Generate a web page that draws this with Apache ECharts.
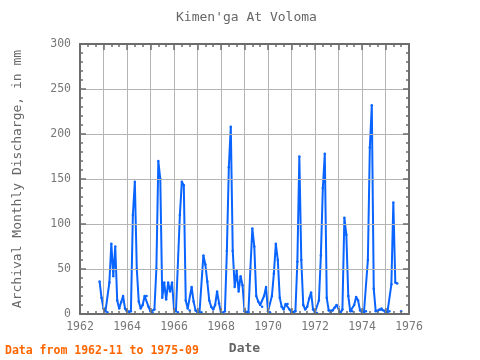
<!DOCTYPE html>
<html>
<head>
<meta charset="utf-8">
<script src="https://cdn.jsdelivr.net/npm/echarts@6/dist/echarts.min.js"></script>
<style>html,body{margin:0;padding:0;background:#fff}#c{width:480px;height:360px}</style>
</head>
<body>
<div id="c"></div>
<script>
// Monthly discharge (mm), Kimen'ga At Voloma, 1962-11 .. 1975-09
const firstYear = 1962, firstMonth = 11;
const v1962 = [36, 18];
const v1963 = [6, 3, 2, 35, 78, 42, 75, 15, 6, 13, 20, 6];
const v1964 = [3, 2, 3, 110, 147, 50, 14, 6, 10, 20, 20, 8];
const v1965 = [3, 2, 5, 50, 170, 150, 18, 35, 16, 35, 25, 35];
const v1966 = [6, 3, 2, 110, 147, 143, 15, 6, 4, 30, 14, 4];
const v1967 = [2, 1, 2, 65, 55, 36, 15, 8, 5, 10, 25, 12];
const v1968 = [1, 1, 3, 70, 163, 208, 70, 30, 48, 25, 42, 32];
const v1969 = [3, 2, 2, 50, 95, 75, 20, 14, 10, 8, 20, 30];
const v1970 = [3, 2, 20, 45, 78, 60, 18, 8, 5, 11, 11, 5];
const v1971 = [2, 2, 3, 58, 175, 60, 10, 5, 8, 17, 24, 5];
const v1972 = [2, 1, 15, 65, 140, 178, 18, 4, 2, 4, 7, 10];
const v1973 = [8, 1, 5, 107, 88, 20, 3, 3, 10, 19, 15, 4];
const v1974 = [2, 2, 3, 60, 185, 232, 28, 3, 3, 5, 6, 4];
const v1975 = [2, 2, 3, 33, 124, 35, 34, null, 3];
const xTicks = [1962, 1964, 1966, 1968, 1970, 1972, 1974, 1976];
const yTicks = [0, 50, 100, 150, 200, 250, 300];

const values = [].concat(v1962, v1963, v1964, v1965, v1966, v1967, v1968,
  v1969, v1970, v1971, v1972, v1973, v1974, v1975);
const data = values.map((v, i) => {
  const m = firstMonth - 1 + i;
  const yr = firstYear + Math.floor(m / 12);
  const mo = m % 12;
  return [yr + mo / 12, v];
});

const FONT = 'DejaVu Sans Mono';
const AX = '#6c6c6c';
const frame = () => ({ show: true, onZero: false, lineStyle: { color: AX, width: 2 } });
const tick = () => ({ show: true, inside: true, length: 6, lineStyle: { color: AX, width: 1.5 } });
const minor = (n) => ({ show: true, splitNumber: n, length: 3, lineStyle: { color: AX, width: 1.5 } });

const chart = echarts.init(document.getElementById('c'), null, { renderer: 'canvas' });
chart.setOption({
  animation: false,
  backgroundColor: '#fff',
  grid: { left: 80, right: 71, top: 44, bottom: 40 },
  graphic: [
    { type: 'text', left: 248 - 72, top: 11, z: 100,
      style: { text: "Kimen'ga At Voloma", font: '13px "DejaVu Sans Mono"', fill: '#666' } },
    { type: 'text', left: 5, top: 345, z: 100,
      style: { text: 'Data from 1962-11 to 1975-09', font: 'bold 11.5px "DejaVu Sans Mono"', fill: '#ff6600' } }
  ],
  xAxis: [
    { type: 'value', min: 1962, max: 1976, interval: 1, position: 'bottom', z: 10,
      axisLine: frame(), axisTick: tick(), minorTick: minor(3),
      axisLabel: { color: '#777', fontFamily: FONT, fontSize: 11.5, margin: 7,
        formatter: (v) => xTicks.indexOf(v) >= 0 ? String(v) : '' },
      splitLine: { show: true, lineStyle: { color: '#b4b4b4', width: 1 } },
      name: 'Date', nameLocation: 'middle', nameGap: 28,
      nameTextStyle: { color: '#666', fontFamily: FONT, fontSize: 13, fontWeight: 'bold' } },
    { type: 'value', min: 1962, max: 1976, interval: 1, position: 'top', z: 10,
      axisLine: frame(), axisTick: tick(), minorTick: minor(3),
      axisLabel: { show: false }, splitLine: { show: false } }
  ],
  yAxis: [
    { type: 'value', min: 0, max: 300, interval: 50, position: 'left', z: 10,
      axisLine: frame(), axisTick: tick(), minorTick: minor(5),
      axisLabel: { color: '#777', fontFamily: FONT, fontSize: 11.5, margin: 9,
        formatter: (v) => yTicks.indexOf(v) >= 0 ? String(v) : '' },
      splitLine: { show: true, lineStyle: { color: '#b4b4b4', width: 1 } },
      name: 'Archival Monthly Discharge, in mm', nameLocation: 'middle', nameGap: 56,
      nameTextStyle: { color: '#666', fontFamily: FONT, fontSize: 13 } },
    { type: 'value', min: 0, max: 300, interval: 50, position: 'right', z: 10,
      axisLine: frame(), axisTick: tick(), minorTick: minor(5),
      axisLabel: { show: false }, splitLine: { show: false } }
  ],
  series: [{
    type: 'line', xAxisIndex: 0, yAxisIndex: 0, data: data, z: 5,
    connectNulls: false, showSymbol: true, showAllSymbol: true,
    symbol: 'circle', symbolSize: 2.5,
    lineStyle: { color: '#0a64ff', width: 2 },
    itemStyle: { color: '#0a64ff' },
    emphasis: { disabled: true }
  }]
});
</script>
</body>
</html>
